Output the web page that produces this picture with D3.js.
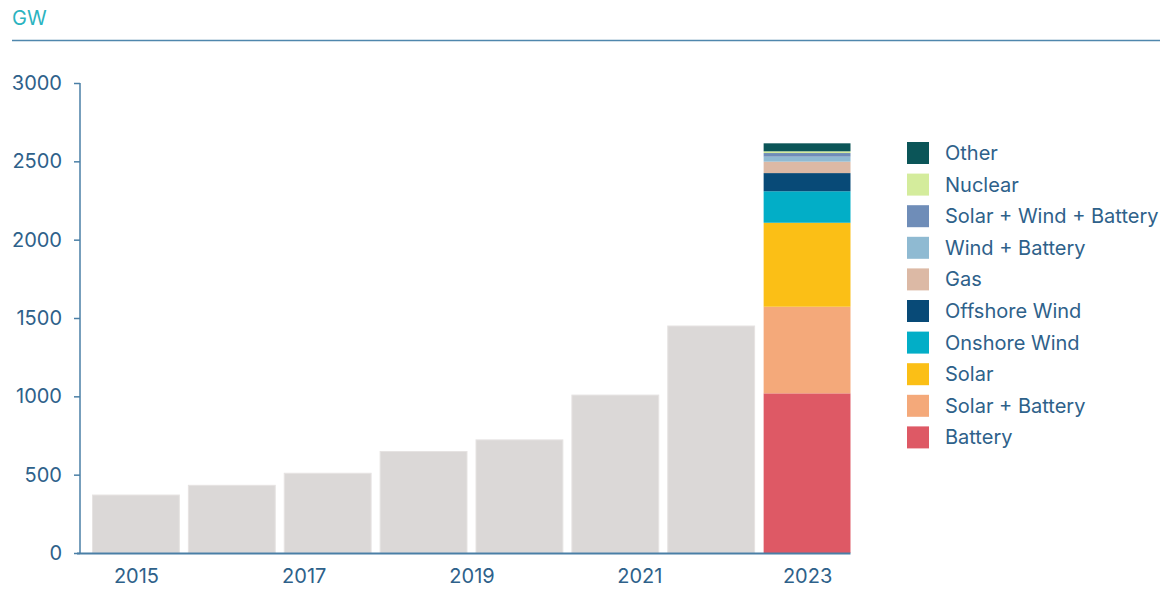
<!DOCTYPE html>
<html>
<head>
<meta charset="utf-8">
<script src="https://cdn.jsdelivr.net/npm/d3@7"></script>
<style>
  body { margin: 0; background: #fff; }
  svg { font-family: Inter, "Noto Sans", sans-serif; }
  .axis text { fill: #2e618a; }
  .axis path, .axis line { stroke: #4a7fa6; stroke-width: 1.5; }
  .legend text { fill: #2e618a; font-size: 20px; }
</style>
</head>
<body>
<div id="chart"></div>
<script>
// bars (grey = total queue, last one is broken down)
const bars = ["b1", "b2", "b3", "b4", "b5", "b6", "b7", "b8"];
const totals = [370, 432, 509, 648, 722, 1008, 1449];
const yearTicks = [2015, 2017, 2019, 2021, 2023];

// 2023 breakdown, bottom to top
const series = ["Battery", "Solar + Battery", "Solar", "Onshore Wind", "Offshore Wind",
                "Gas", "Wind + Battery", "Solar + Wind + Battery", "Nuclear", "Other"];
const values2023 = [1019, 553, 536, 201, 116, 73, 32, 23, 11, 51];
const colors = ["#de5965", "#f4a97a", "#fbbf16", "#02aec7", "#084a77",
                "#dcb9a5", "#8fbad2", "#6f8db8", "#d4ec9c", "#0b5558"];

const width = 1163, height = 589;
const svg = d3.select("#chart").append("svg")
    .attr("width", width)
    .attr("height", height);

// header
svg.append("text")
    .attr("x", 12).attr("y", 25)
    .attr("fill", "#2bb3c0")
    .style("font-size", "20px")
    .text("GW");
svg.append("line")
    .attr("x1", 12).attr("x2", 1160)
    .attr("y1", 40.5).attr("y2", 40.5)
    .attr("stroke", "#4f87ad").attr("stroke-width", 1.5);

const x = d3.scaleBand()
    .domain(bars)
    .range([88, 855])
    .paddingInner(0.094)
    .paddingOuter(0.047);

const y = d3.scaleLinear()
    .domain([0, 3000])
    .range([553, 83]);

// year labels sit on a linear scale from first to last bar centre
const xYear = d3.scaleLinear()
    .domain([2015, 2023])
    .range([x(bars[0]) + x.bandwidth() / 2, x(bars[7]) + x.bandwidth() / 2]);

// grey bars
svg.append("g").selectAll("rect")
    .data(totals)
    .enter().append("rect")
    .attr("x", (d, i) => x(bars[i]))
    .attr("y", d => y(d))
    .attr("width", x.bandwidth())
    .attr("height", d => y(0) - y(d))
    .attr("fill", "#dbd8d7")
    .attr("stroke", "#e6e3e2")
    .attr("stroke-width", 1);

// stacked 2023 bar
const row = {};
series.forEach((s, i) => row[s] = values2023[i]);
const stacked = d3.stack().keys(series)([row]);

svg.append("g").selectAll("rect")
    .data(stacked)
    .enter().append("rect")
    .attr("x", x(bars[7]))
    .attr("y", d => y(d[0][1]))
    .attr("width", x.bandwidth())
    .attr("height", d => y(d[0][0]) - y(d[0][1]))
    .attr("fill", (d, i) => colors[i]);

// y axis
const yAxis = svg.append("g")
    .attr("class", "axis")
    .attr("transform", "translate(80,0)")
    .call(d3.axisLeft(y).tickValues([0, 500, 1000, 1500, 2000, 2500, 3000])
        .tickFormat(d3.format("d"))
        .tickSize(6).tickPadding(12).tickSizeOuter(0));
yAxis.attr("font-family", null).attr("font-size", 20);
yAxis.select(".domain").attr("d", `M0,${y(3000)}V${y(0)}`);

// x axis baseline + year labels
svg.append("line")
    .attr("x1", 77).attr("x2", x(bars[7]) + x.bandwidth())
    .attr("y1", y(0) + 0.5).attr("y2", y(0) + 0.5)
    .attr("stroke", "#4a7fa6").attr("stroke-width", 2);

const xAxis = svg.append("g")
    .attr("class", "axis")
    .attr("transform", `translate(0,${y(0)})`)
    .call(d3.axisBottom(xYear).tickValues(yearTicks).tickFormat(d3.format("d"))
        .tickSize(0).tickPadding(16));
xAxis.attr("font-family", null).attr("font-size", 20);
xAxis.select(".domain").remove();

// legend (top to bottom = top of stack first)
const legendItems = series.map((s, i) => ({ name: s, color: colors[i] })).reverse();
const legend = svg.append("g")
    .attr("class", "legend")
    .attr("transform", "translate(907,142)");

const item = legend.selectAll("g")
    .data(legendItems)
    .enter().append("g")
    .attr("transform", (d, i) => `translate(0,${i * 31.6})`);

item.append("rect")
    .attr("width", 22).attr("height", 22)
    .attr("fill", d => d.color);

item.append("text")
    .attr("x", 38).attr("y", 11)
    .attr("dy", "0.35em")
    .text(d => d.name);
</script>
</body>
</html>
